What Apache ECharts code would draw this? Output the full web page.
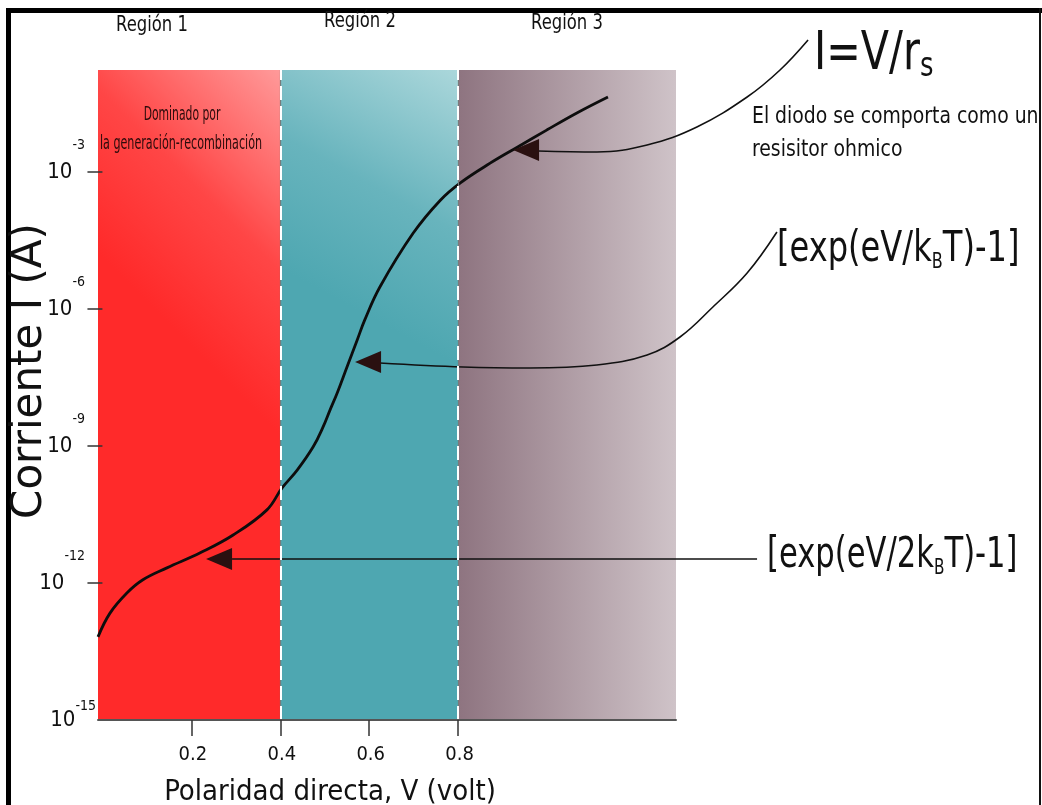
<!DOCTYPE html>
<html>
<head>
<meta charset="utf-8">
<title>Corriente I vs polaridad directa</title>
<script src="https://cdn.jsdelivr.net/npm/echarts@6/dist/echarts.min.js"></script>
<style>
html, body { margin: 0; padding: 0; background: #fff; }
#chart { width: 1042px; height: 805px; }
</style>
</head>
<body>
<div id="chart"></div>
<script>
// curva del diodo: V (volt) y log10 de I (A)
const curveVolt = [-0.01, 0.017, 0.055, 0.091, 0.145, 0.22, 0.294, 0.37, 0.404, 0.438, 0.474, 0.496, 0.512,
  0.528, 0.55, 0.573, 0.59, 0.624, 0.699, 0.76, 0.805, 0.872, 0.933, 1.0, 1.067, 1.137]
const curveLogI = [-13.18, -12.66, -12.22, -11.93, -11.67, -11.34, -10.95, -10.4, -9.92, -9.53, -9.02, -8.59, -8.21,
  -7.84, -7.27, -6.68, -6.24, -5.52, -4.34, -3.62, -3.24, -2.81, -2.46, -2.08, -1.71, -1.36]

// flechas de las anotaciones (mismas coordenadas V / log10 I)
const arrowOhmVolt = [0.98, 1.112, 1.225, 1.337, 1.45, 1.524, 1.587]
const arrowOhmLogI = [-2.543, -2.565, -2.412, -2.018, -1.361, -0.77, -0.113]
const arrowDifVolt = [0.624, 0.811, 0.962, 1.112, 1.225, 1.299, 1.373, 1.45, 1.517]
const arrowDifLogI = [-7.184, -7.272, -7.294, -7.228, -7.009, -6.615, -5.958, -5.214, -4.316]
const arrowRecVolt = [0.2915, 1.4723]
const arrowRecLogI = [-11.475, -11.475]
const arrowHeadVolt = [0.9528, 0.5974, 0.2623]
const arrowHeadLogI = [-2.521, -7.162, -11.475]

// regiones y ejes
const regionNames = ['Región 1', 'Región 2', 'Región 3']
const regionEdges = [-0.01, 0.4, 0.8, 1.29]
const regionDividers = [0.4, 0.8]
const xTickValues = [0.2, 0.4, 0.6, 0.8]
const yTickExps = [-12, -9, -6, -3]
const yLabelExps = [-15, -12, -9, -6, -3]
const yMin = -15
const yMax = -0.77

const NARROW = "'DejaVu Sans Condensed', 'DejaVu Sans', sans-serif"
const WIDE = "'DejaVu Sans', Verdana, sans-serif"

// area de trazado, y una capa mayor con la misma escala para las flechas
const W = 1042
const H = 805
const plot = { left: 98, right: 366, top: 70, bottom: 85 }
const overlay = { left: 98, right: 200, top: 30, bottom: 85 }
const xMin = regionEdges[0]
const xMax = regionEdges[regionEdges.length - 1]
const pxPerVolt = (W - plot.left - plot.right) / (xMax - xMin)
const pxPerDecade = (H - plot.top - plot.bottom) / (yMax - yMin)
const overlayXMax = xMin + (W - overlay.left - overlay.right) / pxPerVolt
const overlayYMax = yMin + (H - overlay.top - overlay.bottom) / pxPerDecade

const zip = (a, b) => a.map((v, i) => [v, b[i]])

const regionColors = [
  {
    type: 'linear', x: 1, y: 0, x2: 0, y2: 0.28,
    colorStops: [
      { offset: 0, color: '#ff9a9a' },
      { offset: 0.55, color: '#ff4646' },
      { offset: 1, color: '#ff2a2a' }
    ]
  },
  {
    type: 'linear', x: 1, y: 0, x2: 0.3, y2: 0.35,
    colorStops: [
      { offset: 0, color: '#abd7db' },
      { offset: 0.55, color: '#68b4bd' },
      { offset: 1, color: '#4ea7b1' }
    ]
  },
  {
    type: 'linear', x: 0, y: 0, x2: 1, y2: 0,
    colorStops: [
      { offset: 0, color: '#8e7480' },
      { offset: 1, color: '#cfc3c8' }
    ]
  }
]

const chart = echarts.init(document.getElementById('chart'))

const arrowLine = {
  type: 'line',
  xAxisIndex: 1,
  yAxisIndex: 1,
  smooth: 0.4,
  symbol: 'none',
  clip: false,
  z: 4,
  lineStyle: { color: '#111', width: 1.6 }
}

const label = (x, y, text, size, opts) => Object.assign({
  type: 'text', x, y, z: 10,
  style: Object.assign({ text, font: size + 'px ' + NARROW, fill: '#111', align: 'left', verticalAlign: 'middle' }, opts && opts.style)
}, opts && opts.el)

const formula = (x, y, text, scaleX) => ({
  type: 'text', x, y, z: 10, scaleX,
  style: {
    text,
    align: 'left',
    verticalAlign: 'middle',
    rich: {
      m: { fontFamily: NARROW, fontSize: 42, lineHeight: 46, fill: '#111' },
      s: { fontFamily: NARROW, fontSize: 21, lineHeight: 22, fill: '#111', verticalAlign: 'bottom' }
    }
  }
})

chart.setOption({
  animation: false,
  backgroundColor: '#fff',
  grid: [
    Object.assign({ outerBoundsMode: 'none', containLabel: false }, plot),
    Object.assign({ outerBoundsMode: 'none', containLabel: false, show: false }, overlay)
  ],
  xAxis: [
    {
      type: 'value',
      gridIndex: 0,
      min: xMin,
      max: xMax,
      z: 5,
      name: 'Polaridad directa, V (volt)',
      nameLocation: 'middle',
      nameGap: 58,
      nameTextStyle: {
        fontFamily: NARROW,
        fontSize: 29,
        color: '#111',
        padding: [0, 114, 0, 0]
      },
      axisLine: { lineStyle: { color: '#555', width: 2 } },
      axisTick: {
        customValues: xTickValues,
        length: 16,
        lineStyle: { color: '#333', width: 1.5 }
      },
      axisLabel: {
        customValues: xTickValues,
        formatter: v => v.toFixed(1),
        fontFamily: NARROW,
        fontSize: 20,
        color: '#111',
        margin: 25,
        padding: [0, 0, 0, 3]
      },
      splitLine: { show: false }
    },
    { type: 'value', gridIndex: 1, min: xMin, max: overlayXMax, show: false }
  ],
  yAxis: [
    {
      type: 'value',
      gridIndex: 0,
      min: yMin,
      max: yMax,
      z: 5,
      name: 'Corriente I (A)',
      nameLocation: 'middle',
      nameGap: 47,
      nameMoveOverlap: false,
      nameTextStyle: {
        fontFamily: WIDE,
        fontSize: 42,
        color: '#111',
        padding: [0, 0, 0, 48]
      },
      axisLine: { show: false },
      axisTick: {
        customValues: yTickExps,
        length: 15,
        lineStyle: { color: '#333', width: 1.5 }
      },
      axisLabel: {
        customValues: yLabelExps,
        margin: 2,
        formatter: v => (v === yMin ? '{b|10}{s|' + v + '}{h|}' : '{b|10}{s|' + v + '}{g|}'),
        rich: {
          b: { fontFamily: NARROW, fontSize: 22, color: '#111', lineHeight: 24 },
          s: { fontFamily: NARROW, fontSize: 14, color: '#111', lineHeight: 14, verticalAlign: 'top' },
          g: { width: 11, lineHeight: 68 },
          h: { width: 0, lineHeight: 42 }
        }
      },
      splitLine: { show: false }
    },
    { type: 'value', gridIndex: 1, min: yMin, max: overlayYMax, show: false }
  ],
  series: [
    {
      type: 'line',
      data: [],
      z: 1,
      markArea: {
        silent: true,
        label: { show: false },
        data: regionNames.map((name, i) => [
          { name, xAxis: regionEdges[i], yAxis: yMin, itemStyle: { color: regionColors[i] } },
          { xAxis: regionEdges[i + 1], yAxis: yMax }
        ])
      },
      markLine: {
        silent: true,
        symbol: 'none',
        label: { show: false },
        lineStyle: { color: '#7a7a7a', width: 1.2, type: 'solid' },
        data: regionDividers.map(v => ({ xAxis: v }))
      }
    },
    {
      type: 'line',
      data: [],
      z: 2,
      markLine: {
        silent: true,
        symbol: 'none',
        label: { show: false },
        lineStyle: { color: '#ffffff', width: 2, type: [14, 6] },
        data: regionDividers.map(v => ({ xAxis: v }))
      }
    },
    {
      name: 'I(V)',
      type: 'line',
      smooth: 0.4,
      symbol: 'none',
      z: 4,
      lineStyle: { color: '#0d0d0d', width: 2.8 },
      data: zip(curveVolt, curveLogI)
    },
    Object.assign({ name: 'I=V/rs' }, arrowLine, { data: zip(arrowOhmVolt, arrowOhmLogI) }),
    Object.assign({ name: 'exp(eV/kBT)' }, arrowLine, { data: zip(arrowDifVolt, arrowDifLogI) }),
    Object.assign({ name: 'exp(eV/2kBT)' }, arrowLine, { data: zip(arrowRecVolt, arrowRecLogI) }),
    {
      type: 'scatter',
      xAxisIndex: 1,
      yAxisIndex: 1,
      symbol: 'triangle',
      symbolSize: [22, 26],
      symbolRotate: 90,
      z: 5,
      itemStyle: { color: '#2a1010', opacity: 1 },
      data: zip(arrowHeadVolt, arrowHeadLogI)
    }
  ],
  graphic: [
    { type: 'rect', shape: { x: 6, y: 8, width: 1036, height: 5 }, style: { fill: '#000' } },
    { type: 'rect', shape: { x: 6, y: 8, width: 5, height: 797 }, style: { fill: '#000' } },
    { type: 'rect', shape: { x: 1039, y: 8, width: 2, height: 797 }, style: { fill: '#111' } },
    label(152, 26, regionNames[0], 21, { style: { align: 'center' }, el: { scaleX: 0.87 } }),
    label(360, 22, regionNames[1], 21, { style: { align: 'center' }, el: { scaleX: 0.87 } }),
    label(567, 24, regionNames[2], 21, { style: { align: 'center' }, el: { scaleX: 0.87 } }),
    label(182, 115, 'Dominado por', 20, { style: { align: 'center', fill: '#2b0b0b' }, el: { scaleX: 0.6 } }),
    label(181, 144, 'la generación-recombinación', 20, { style: { align: 'center', fill: '#2b0b0b' }, el: { scaleX: 0.62 } }),
    {
      type: 'text', x: 814, y: 55, z: 10, scaleX: 0.85,
      style: {
        text: '{m|I=V/r}{s|s}',
        align: 'left',
        verticalAlign: 'middle',
        rich: {
          m: { fontFamily: NARROW, fontSize: 54, lineHeight: 58, fill: '#111' },
          s: { fontFamily: NARROW, fontSize: 34, lineHeight: 30, fill: '#111', verticalAlign: 'bottom' }
        }
      }
    },
    label(752, 117, 'El diodo se comporta como un', 23, { el: { scaleX: 0.91 } }),
    label(752, 150, 'resisitor ohmico', 23, { el: { scaleX: 0.91 } }),
    formula(777, 250, '{m|[exp(eV/k}{s|B}{m|T)-1]}', 0.85),
    formula(767, 556, '{m|[exp(eV/2k}{s|B}{m|T)-1]}', 0.81)
  ]
})

window.addEventListener('resize', () => chart.resize())
</script>
</body>
</html>
